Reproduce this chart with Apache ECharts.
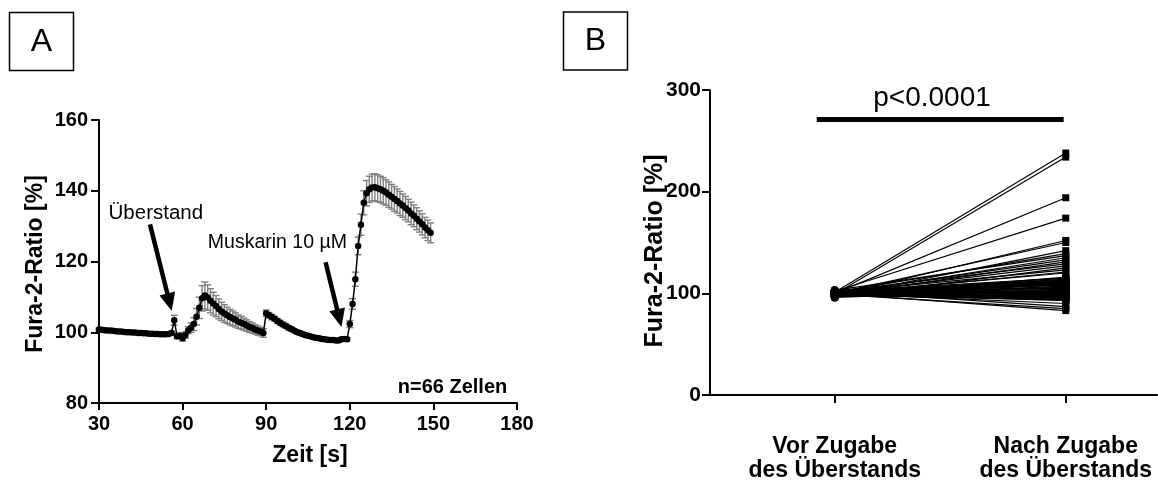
<!DOCTYPE html>
<html><head><meta charset="utf-8">
<script src="https://cdn.jsdelivr.net/npm/echarts@6/dist/echarts.min.js"></script>
<style>html,body{margin:0;padding:0;background:#fff}#c{width:1158px;height:484px}</style>
</head><body><div id="c"></div>
<script>
// ---- Panel A: time course (mean ± SEM) ----
const timeA = [30,31,32,33,34,35,36,37,38,39,40,41,42,43,44,45,46,47,48,49,
  50,51,52,53,54,55,56,57,58,59,60,61,62,63,64,65,66,67,68,69,
  70,71,72,73,74,75,76,77,78,79,80,81,82,83,84,85,86,87,88,89,
  90,91,92,93,94,95,96,97,98,99,100,101,102,103,104,105,106,107,108,109,
  110,111,112,113,114,115,116,117,118,119,120,121,122,123,124,125,126,127,128,129,
  130,131,132,133,134,135,136,137,138,139,140,141,142,143,144,145,146,147,148,149];
const ratioA = [100.8,100.7,100.6,100.5,100.5,100.4,100.3,100.2,100.2,100.1,
  100.0,100.0,99.9,99.9,99.8,99.8,99.7,99.7,99.6,99.6,
  99.5,99.5,99.4,99.4,99.4,99.5,99.8,103.4,98.9,99.0,
  98.3,99.2,100.6,101.3,102.3,104.4,106.9,109.6,110.4,109.8,
  108.9,108.1,107.4,106.6,105.9,105.3,104.8,104.3,103.9,103.5,
  103.0,102.7,102.3,101.9,101.5,101.2,100.8,100.5,100.2,99.8,
  105.4,104.8,104.3,103.8,103.2,102.7,102.2,101.8,101.3,100.9,
  100.5,100.1,99.8,99.5,99.2,99.0,98.8,98.6,98.4,98.3,
  98.1,98.0,97.9,97.8,97.8,97.7,97.7,98.0,98.1,98.0,
  102.3,108.0,115.0,124.4,130.4,136.6,139.3,140.4,140.9,141.0,
  140.7,140.4,140.0,139.5,138.9,138.3,137.7,137.1,136.4,135.8,
  135.1,134.4,133.6,132.9,132.1,131.3,130.5,129.6,128.8,128.1];
const semA = [0.4,0.4,0.4,0.4,0.4,0.4,0.4,0.4,0.4,0.4,
  0.4,0.4,0.4,0.4,0.4,0.4,0.4,0.4,0.4,0.4,
  0.4,0.4,0.4,0.4,0.4,0.4,0.5,1.4,0.8,0.8,
  0.8,0.9,1.0,1.3,1.8,2.3,3.0,3.6,3.8,3.6,
  3.4,3.2,3.0,2.8,2.6,2.5,2.3,2.2,2.1,2.0,
  1.9,1.8,1.7,1.6,1.5,1.4,1.3,1.3,1.2,1.2,
  0.9,0.8,0.8,0.7,0.7,0.7,0.6,0.6,0.6,0.6,
  0.5,0.5,0.5,0.5,0.5,0.5,0.5,0.5,0.5,0.5,
  0.5,0.5,0.5,0.5,0.5,0.5,0.5,0.5,0.5,0.5,
  1.0,1.5,2.0,2.5,3.0,3.4,3.6,3.7,3.8,3.8,
  3.8,3.7,3.7,3.6,3.6,3.5,3.5,3.4,3.4,3.3,
  3.3,3.2,3.2,3.1,3.1,3.0,3.0,2.9,2.9,2.8];

// ---- Panel B: paired values per cell (n=66) ----
const groupsB = ['Vor Zugabe\ndes Überstands', 'Nach Zugabe\ndes Überstands'];
const beforeB = [101,99,100,102,98,100,97,101,103,99,
  100,98,102,100,96,101,99,100,97,102,
  100,99,101,98,100,103,99,100,101,97,
  100,102,98,99,100,101,96,100,99,102,
  98,100,101,99,97,100,103,98,100,99,
  101,100,98,102,99,100,97,101,100,99,
  98,101,100,102,99,100];
const afterB = [238,234,194,174,152,150,
  142,139,137,135,133,131,129,127,125,123,121,120,
  116,115,115,114,113,113,112,111,111,110,
  110,109,108,108,107,106,106,105,104,104,
  103,102,102,101,100,100,99,99,98,97,
  97,96,96,95,94,94,93,93,
  112,109,105,101,98,95,
  90,87,85,83];

const FONT = '"Liberation Sans", Arial, Helvetica, sans-serif';
const chart = echarts.init(document.getElementById('c'), null, {renderer: 'canvas'});

const axLine = {show: true, onZero: false, lineStyle: {color: '#000', width: 2}};
const tickStyle = {color: '#000', width: 2};
const lblStyle = {color: '#000', fontFamily: FONT, fontWeight: 'bold', fontSize: 20};

const seriesB = beforeB.map((b, i) => ({
  type: 'line', xAxisIndex: 1, yAxisIndex: 1, silent: true,
  data: [{value: [0, b], symbol: 'circle', symbolSize: 8},
         {value: [1, afterB[i]], symbol: 'rect', symbolSize: 7}],
  lineStyle: {color: '#000', width: 1.2},
  itemStyle: {color: '#000'},
  z: 3
}));

const option = {
  animation: false,
  backgroundColor: '#fff',
  grid: [
    {left: 99, top: 120, width: 418, height: 283},
    {left: 710, top: 90, width: 447, height: 305}
  ],
  xAxis: [
    {gridIndex: 0, type: 'value', min: 30, max: 180, interval: 30,
     axisLine: axLine, axisTick: {show: true, length: 7, lineStyle: tickStyle},
     axisLabel: Object.assign({margin: 11}, lblStyle), splitLine: {show: false}},
    {gridIndex: 1, type: 'value', min: -0.54, max: 1.395,
     axisLine: axLine,
     axisTick: {show: true, length: 8, lineStyle: tickStyle, customValues: [0, 1]},
     axisLabel: Object.assign({}, lblStyle, {fontSize: 23, lineHeight: 24, margin: 40,
       customValues: [0, 1], formatter: v => groupsB[Math.round(v)] || ''}),
     splitLine: {show: false}}
  ],
  yAxis: [
    {gridIndex: 0, type: 'value', min: 80, max: 160, interval: 20,
     axisLine: axLine, axisTick: {show: true, length: 8, lineStyle: tickStyle},
     axisLabel: Object.assign({margin: 11}, lblStyle), splitLine: {show: false}},
    {gridIndex: 1, type: 'value', min: 0, max: 300, interval: 100,
     axisLine: axLine, axisTick: {show: true, length: 8, lineStyle: tickStyle},
     axisLabel: Object.assign({}, lblStyle, {margin: 9, fontSize: 21}), splitLine: {show: false}}
  ],
  series: [
    {type: 'custom', xAxisIndex: 0, yAxisIndex: 0, silent: true, z: 1,
     encode: {x: 0, y: [1, 2]},
     data: timeA.map((t, i) => [t, ratioA[i] - semA[i], ratioA[i] + semA[i]]),
     renderItem: (params, api) => {
       const lo = api.coord([api.value(0), api.value(1)]);
       const hi = api.coord([api.value(0), api.value(2)]);
       const w = 3.5, st = {stroke: '#7f7f7f', lineWidth: 1.4};
       return {type: 'group', children: [
         {type: 'line', shape: {x1: lo[0], y1: lo[1], x2: hi[0], y2: hi[1]}, style: st},
         {type: 'line', shape: {x1: hi[0] - w, y1: hi[1], x2: hi[0] + w, y2: hi[1]}, style: st},
         {type: 'line', shape: {x1: lo[0] - w, y1: lo[1], x2: lo[0] + w, y2: lo[1]}, style: st}
       ]};
     }},
    {type: 'line', xAxisIndex: 0, yAxisIndex: 0, silent: true, z: 3,
     data: timeA.map((t, i) => [t, ratioA[i]]),
     symbol: 'circle', symbolSize: 6.5, showSymbol: true,
     lineStyle: {color: '#000', width: 1.5}, itemStyle: {color: '#000'}}
  ].concat(seriesB)
};
chart.setOption(option);

// ---- annotations ----
const pA = (x, y) => chart.convertToPixel({gridIndex: 0}, [x, y]);
const pB = (x, y) => chart.convertToPixel({gridIndex: 1}, [x, y]);

function arrow(tail, tip) {
  const dx = tip[0] - tail[0], dy = tip[1] - tail[1];
  const L = Math.sqrt(dx * dx + dy * dy), ux = dx / L, uy = dy / L;
  const hl = 18, hw = 8;
  const bx = tip[0] - ux * hl, by = tip[1] - uy * hl;
  return [
    {type: 'line', shape: {x1: tail[0], y1: tail[1], x2: bx + ux * 2, y2: by + uy * 2},
     style: {stroke: '#000', lineWidth: 4.5}},
    {type: 'polygon', shape: {points: [tip, [bx - uy * hw, by + ux * hw], [bx + uy * hw, by - ux * hw]]},
     style: {fill: '#000'}}
  ];
}
function txt(x, y, text, size, weight, align, rot) {
  return {type: 'text', x: x, y: y, rotation: rot || 0,
    style: {text: text, fill: '#000', font: weight + ' ' + size + 'px ' + FONT,
      textAlign: align || 'center', textVerticalAlign: 'middle'}};
}

const a1tail = pA(48.3, 130.5), a1tip = pA(56.1, 106.0);
const a2tail = pA(111.3, 119.8), a2tip = pA(117.0, 101.5);
const ueb = pA(50.4, 133.6), musk = pA(94.0, 125.4), nz = pA(176.5, 84.3);
const barL = pB(-0.078, 271), barR = pB(0.991, 271), pTxt = pB(0.421, 292);

const graphics = [
  {type: 'rect', shape: {x: 9.5, y: 12.5, width: 64, height: 58}, style: {fill: 'none', stroke: '#000', lineWidth: 1.5}},
  txt(41.5, 42, 'A', 32, 'normal'),
  {type: 'rect', shape: {x: 563.5, y: 12, width: 64, height: 58}, style: {fill: 'none', stroke: '#000', lineWidth: 1.5}},
  txt(595.5, 41, 'B', 32, 'normal'),
  txt(36, 264, 'Fura-2-Ratio [%]', 23, 'bold', 'center', Math.PI / 2),
  txt(310, 456, 'Zeit [s]', 23, 'bold'),
  txt(655, 251, 'Fura-2-Ratio [%]', 25, 'bold', 'center', Math.PI / 2),
  txt(ueb[0], ueb[1], 'Überstand', 20.5, 'normal'),
  txt(musk[0], musk[1], 'Muskarin 10 µM', 19.5, 'normal'),
  txt(nz[0], nz[1], 'n=66 Zellen', 20, 'bold', 'right'),
  txt(pTxt[0], pTxt[1], 'p<0.0001', 28, 'normal'),
  {type: 'rect', shape: {x: barL[0], y: barL[1] - 2.5, width: barR[0] - barL[0], height: 5}, style: {fill: '#000'}}
].concat(arrow(a1tail, a1tip), arrow(a2tail, a2tip));

chart.setOption({graphic: graphics.map(g => Object.assign({z: 10}, g))});
</script>
</body></html>
